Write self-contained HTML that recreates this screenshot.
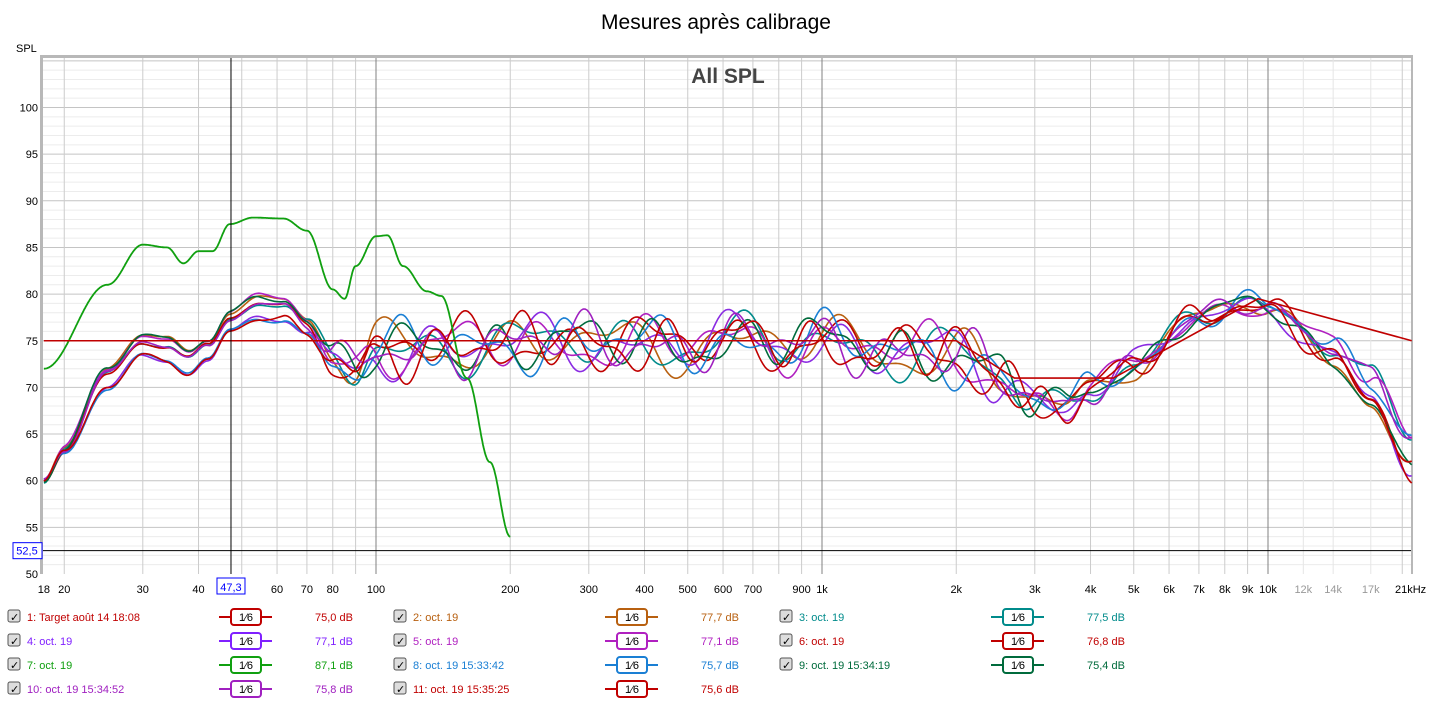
<!DOCTYPE html><html><head><meta charset="utf-8"><style>
body{margin:0;background:#fff;font-family:"Liberation Sans",sans-serif;}
svg{display:block}
</style></head><body>
<svg id="s" width="1433" height="704" xmlns="http://www.w3.org/2000/svg" font-family="Liberation Sans, sans-serif"></svg>
<script>
const S=document.getElementById('s');let h='';
const X0=43,X1=1411,Y0=58,Y1=574;
const fx=f=>376+446*Math.log10(f/100);
const fy=v=>574-(v-50)*9.33;
h+=`<text x="716" y="29" font-size="21" text-anchor="middle">Mesures après calibrage</text>`;
h+=`<text x="16" y="52" font-size="11">SPL</text>`;
h+=`<rect x="${X0-3}" y="${Y0-3}" width="${X1-X0+5}" height="${Y1-Y0+3}" fill="#b8b8b8"/>`;
h+=`<rect x="${X0}" y="${Y0}" width="${X1-X0}" height="${Y1-Y0}" fill="#fff"/>`;
for(let v=51;v<=105;v++){const y=fy(v);h+=`<line x1="${X0}" x2="${X1}" y1="${y}" y2="${y}" stroke="${v%5?'#ececec':'#c4c4c4'}"/>`;if(v%5==0&&v<=100)h+=`<text x="38" y="${y+4}" font-size="11" text-anchor="end">${v}</text>`;}
h+=`<text x="38" y="578" font-size="11" text-anchor="end">50</text>`;
let fs=[];for(let d of[10,100,1000,10000])for(let m=1;m<10;m++){const f=d*m;if(f>=20&&f<=21000)fs.push(f);}
for(const f of [12000,14000,17000]){const x=fx(f);h+=`<line x1="${x}" x2="${x}" y1="${Y0}" y2="${Y1}" stroke="#e6e6e6"/>`;}
for(const f of fs){const x=fx(f);const maj=(f==100||f==1000||f==10000);h+=`<line x1="${x}" x2="${x}" y1="${Y0}" y2="${Y1}" stroke="${maj?'#808080':'#cccccc'}"/>`;}
const labs=[[18,'18'],[20,'20'],[30,'30'],[40,'40'],[60,'60'],[70,'70'],[80,'80'],[100,'100'],[200,'200'],[300,'300'],[400,'400'],[500,'500'],[600,'600'],[700,'700'],[900,'900'],[1000,'1k'],[2000,'2k'],[3000,'3k'],[4000,'4k'],[5000,'5k'],[6000,'6k'],[7000,'7k'],[8000,'8k'],[9000,'9k'],[10000,'10k'],[12000,'12k',1],[14000,'14k',1],[17000,'17k',1]];
for(const l of labs)h+=`<text x="${fx(l[0])}" y="593" font-size="11" text-anchor="middle" fill="${l[2]?'#999':'#000'}">${l[1]}</text>`;
h+=`<text x="1395" y="593" font-size="11">21kHz</text>`;
h+=`<text x="728" y="83" font-size="21" font-weight="bold" fill="#444" text-anchor="middle">All SPL</text>`;
function interp(pts,f){const lf=Math.log10(f);for(let i=0;i<pts.length-1;i++){const a=Math.log10(pts[i][0]),b=Math.log10(pts[i+1][0]);if(lf>=a&&lf<=b){const t=(lf-a)/(b-a);const s=(1-Math.cos(t*Math.PI))/2;return pts[i][1]+(pts[i+1][1]-pts[i][1])*s;}}return pts[pts.length-1][1];}
const base=[[18,60],[20,63],[25,70],[30,73.3],[34,73],[38,71.5],[42,73],[47,76],[55,77.5],[62,77.3],[70,75.5],[80,73],[90,71.5],[100,74],[150,74.5],[300,74.8],[1000,74.8],[2000,73.5],[2500,71],[3000,68.5],[3500,68],[4000,70],[5000,72.5],[7000,77.5],[9000,79],[10000,78.5],[14000,74],[17000,70],[21000,63]];
const series=[['#b86010',1],['#008b8b',2],['#8a2be2',3],['#b020c0',4],['#c00000',5],['#1a7fd4',6],['#006b3c',7],['#a020c0',8],['#c00000',9]];
function path(fn,f0,f1){let d='';for(let i=0;i<=700;i++){const f=f0*Math.pow(f1/f0,i/700);const x=fx(f),y=fy(fn(f));d+=(i?'L':'M')+x.toFixed(1)+' '+y.toFixed(1);}return d;}
const ampPts=[[18,0.3],[65,0.4],[100,3],[2500,3],[4000,1.5],[8000,1.3],[21000,1.2]];
const offPts=[[18,0],[26,1],[62,1],[90,0],[21000,0]];
for(const [c,k] of series){
 const off=(k%3==1)?2.2:(k%3==2?1.5:0);
 const fn=f=>{const lf=Math.log10(f);let v=interp(base,f);
  let lowOff=off*interp(offPts,f);
  let amp=interp(ampPts,f);
  let n=Math.sin(lf*23*(1+k*0.07)+k*1.7)*0.6+Math.sin(lf*41*(1+k*0.05)+k*2.9)*0.4+Math.sin(lf*13+k)*0.3;
  let hi=f>10000?(k%2?-2:1.5)*(Math.log10(f/10000)/0.32):0;
  return v+lowOff+amp*n+hi;};
 h+=`<path d="${path(fn,18,21000)}" fill="none" stroke="${c}" stroke-width="1.6"/>`;
}
const green=[[18,72],[25,81],[30,85.3],[34,85],[37,83.3],[40,84.6],[43,84.6],[47,87.5],[53,88.2],[62,88.1],[70,86.8],[80,80.5],[85,79.5],[90,83],[100,86.2],[106,86.3],[115,83],[130,80.3],[140,79.8],[160,71],[180,62],[200,54]];
h+=`<path d="${path(f=>interp(green,f),18,200)}" fill="none" stroke="#10a010" stroke-width="1.8"/>`;
h+=`<path d="M${fx(18)} ${fy(75)}L${fx(2000)} ${fy(75)}L${fx(2700)} ${fy(71)}L${fx(4500)} ${fy(71)}L${fx(9500)} ${fy(79.5)}L${fx(21000)} ${fy(75)}" fill="none" stroke="#c00000" stroke-width="1.6"/>`;
const cx=fx(47.3),cy=fy(52.5);
h+=`<line x1="${cx}" x2="${cx}" y1="${Y0}" y2="${Y1}" stroke="#000"/><line x1="${X0}" x2="${X1}" y1="${cy}" y2="${cy}" stroke="#000"/>`;
h+=`<rect x="13" y="${cy-8}" width="29" height="16" fill="#fff" stroke="#00f"/><text x="27" y="${cy+4}" font-size="11" fill="#00f" text-anchor="middle">52,5</text>`;
h+=`<rect x="${cx-14}" y="578" width="28" height="16" fill="#fff" stroke="#00f"/><text x="${cx}" y="591" font-size="11" fill="#00f" text-anchor="middle">47,3</text>`;
const leg=[['1: Target août 14 18:08','#c00000','75,0 dB'],['2: oct. 19','#b86010','77,7 dB'],['3: oct. 19','#008b8b','77,5 dB'],['4: oct. 19','#8020ff','77,1 dB'],['5: oct. 19','#b020c0','77,1 dB'],['6: oct. 19','#c00000','76,8 dB'],['7: oct. 19','#10a010','87,1 dB'],['8: oct. 19 15:33:42','#1a7fd4','75,7 dB'],['9: oct. 19 15:34:19','#006b3c','75,4 dB'],['10: oct. 19 15:34:52','#a020c0','75,8 dB'],['11: oct. 19 15:35:25','#c00000','75,6 dB']];
leg.forEach((l,i)=>{const r=Math.floor(i/3),c=i%3;const bx=c*386,y=617+r*24;
 h+=`<rect x="${bx+8}" y="${y-7}" width="12" height="12" fill="#ddd" stroke="#555" rx="2"/><text x="${bx+10}" y="${y+4}" font-size="11">✓</text>`;
 h+=`<text x="${bx+27}" y="${y+4}" font-size="11" fill="${l[1]}">${l[0]}</text>`;
 h+=`<line x1="${bx+219}" x2="${bx+272}" y1="${y}" y2="${y}" stroke="${l[1]}" stroke-width="2"/><rect x="${bx+231}" y="${y-8}" width="30" height="16" rx="3" fill="#fff" stroke="${l[1]}" stroke-width="2"/><text x="${bx+246}" y="${y+4}" font-size="11" text-anchor="middle">1⁄6</text>`;
 h+=`<text x="${bx+315}" y="${y+4}" font-size="11" fill="${l[1]}">${l[2]}</text>`;});
S.innerHTML=h;
</script></body></html>
